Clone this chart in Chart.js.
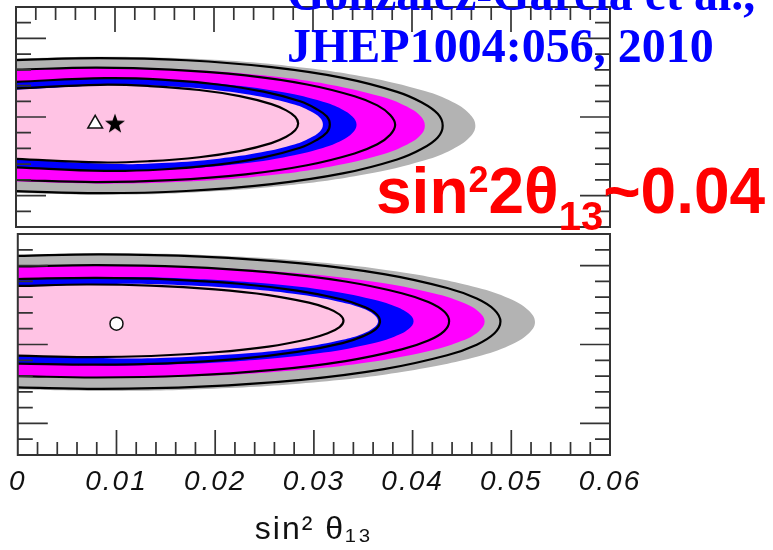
<!DOCTYPE html>
<html>
<head>
<meta charset="utf-8">
<script src="https://cdn.jsdelivr.net/npm/chart.js@4.4.0/dist/chart.umd.min.js"></script>
<style>
  body { margin: 0; width: 773px; height: 550px; overflow: hidden; position: relative; background: #fff; }
  canvas { position: absolute; left: 0; }
  .cite { position: absolute; left: 287px; font: bold 48px/1 'Liberation Serif', 'Times New Roman', serif; color: #0000ff; white-space: nowrap; z-index: 5; }
  .note { position: absolute; left: 376px; top: 159px; font: bold 64px/1 'Liberation Sans', Arial, sans-serif; color: #ff0000; white-space: nowrap; z-index: 5; }
  .note .sup { font-size: 36px; position: relative; top: -21px; }
  .note .sub { font-size: 40px; position: relative; top: 17px; }
</style>
</head>
<body>
<canvas id="topPanel" width="773" height="230" style="top:0"></canvas>
<canvas id="bottomPanel" width="773" height="331" style="top:230px"></canvas>
<div class="cite" style="top:-30px">Gonzalez-Garcia et al.,</div>
<div class="cite" style="top:22px">JHEP1004:056, 2010</div>
<div class="note">sin<span class="sup">2</span>2θ<span class="sub">13</span>~0.04</div>

<script>
// =================[Axis ticks]=================
const xTicks = [0, 0.01, 0.02, 0.03, 0.04, 0.05, 0.06];
const xTickLabels = ['0', '0.01', '0.02', '0.03', '0.04', '0.05', '0.06'];
const yMajorTicks = [2, 7, 12];

// =================[Top panel: contour x points + half widths]=================
const topGrayX = [0, 0.0085, 0.0180, 0.0275, 0.0353, 0.0413, 0.0441, 0.0458, 0.0464];
const topGrayHalf = [4.28, 4.39, 4.25, 3.80, 3.10, 2.20, 1.50, 0.76, 0];
const topMagentaX = [0, 0.0085, 0.0167, 0.0249, 0.0317, 0.0369, 0.0393, 0.0408, 0.0413];
const topMagentaHalf = [3.56, 3.69, 3.57, 3.20, 2.61, 1.85, 1.26, 0.64, 0];
const topBlueX = [0, 0.009, 0.0154, 0.0217, 0.0270, 0.0310, 0.0329, 0.0340, 0.0344];
const topBlueHalf = [2.74, 2.93, 2.84, 2.54, 2.07, 1.47, 1.00, 0.51, 0];
const topPinkX = [0, 0.01, 0.0153, 0.0205, 0.0248, 0.0282, 0.0297, 0.0307, 0.031];
const topPinkHalf = [2.21, 2.51, 2.43, 2.17, 1.77, 1.26, 0.86, 0.44, 0];

const topLine4X = [0, 0.0085, 0.0172, 0.0258, 0.0330, 0.0385, 0.0410, 0.0426, 0.0431];
const topLine4Half = [4.17, 4.30, 4.16, 3.72, 3.04, 2.15, 1.47, 0.75, 0];
const topLine3X = [0, 0.008, 0.0156, 0.0232, 0.0294, 0.0342, 0.0365, 0.0378, 0.0383];
const topLine3Half = [3.51, 3.64, 3.52, 3.15, 2.57, 1.82, 1.24, 0.63, 0];
const topLine2X = [0, 0.009, 0.0147, 0.0204, 0.0250, 0.0287, 0.0303, 0.0314, 0.0317];
const topLine2Half = [2.72, 2.95, 2.86, 2.55, 2.09, 1.48, 1.01, 0.51, 0];
const topLine1X = [0, 0.0085, 0.0135, 0.0185, 0.0226, 0.0258, 0.0273, 0.0282, 0.0285];
const topLine1Half = [2.24, 2.47, 2.39, 2.14, 1.75, 1.24, 0.84, 0.43, 0];

const topMids = {gray: 6.45, magenta: 6.45, blue: 6.5, pink: 6.52, line4: 6.45, line3: 6.5, line2: 6.52, line1: 6.58};
const topTriangle = {x: 0.0080, y: 6.57};
const topStar = {x: 0.0100, y: 6.55};

// =================[Bottom panel]=================
const botGrayX = [0, 0.009, 0.0199, 0.0307, 0.0397, 0.0466, 0.0498, 0.0517, 0.0524];
const botGrayHalf = [4.27, 4.36, 4.22, 3.78, 3.08, 2.18, 1.49, 0.76, 0];
const botMagentaX = [0, 0.009, 0.0186, 0.0282, 0.0361, 0.0422, 0.0450, 0.0467, 0.0473];
const botMagentaHalf = [3.46, 3.56, 3.45, 3.08, 2.52, 1.78, 1.22, 0.62, 0];
const botBlueX = [0, 0.009, 0.0168, 0.0246, 0.0310, 0.0359, 0.0382, 0.0396, 0.0401];
const botBlueHalf = [2.68, 2.80, 2.71, 2.42, 1.98, 1.40, 0.96, 0.49, 0];
const botPinkX = [0, 0.01, 0.0166, 0.0233, 0.0287, 0.0329, 0.0349, 0.0361, 0.0365];
const botPinkHalf = [2.19, 2.36, 2.28, 2.04, 1.67, 1.18, 0.81, 0.41, 0];

const botLine4X = [0, 0.0085, 0.0186, 0.0287, 0.0371, 0.0435, 0.0465, 0.0483, 0.0489];
const botLine4Half = [4.16, 4.26, 4.12, 3.69, 3.01, 2.13, 1.46, 0.74, 0];
const botLine3X = [0, 0.008, 0.0169, 0.0259, 0.0332, 0.0389, 0.0416, 0.0432, 0.0437];
const botLine3Half = [3.47, 3.56, 3.45, 3.08, 2.52, 1.78, 1.22, 0.62, 0];
const botLine2X = [0, 0.008, 0.0152, 0.0224, 0.0283, 0.0329, 0.0350, 0.0363, 0.0367];
const botLine2Half = [2.68, 2.75, 2.66, 2.38, 1.94, 1.38, 0.94, 0.48, 0];
const botLine1X = [0, 0.007, 0.0135, 0.020, 0.0254, 0.0295, 0.0314, 0.0326, 0.033];
const botLine1Half = [2.21, 2.30, 2.23, 1.99, 1.63, 1.15, 0.79, 0.40, 0];

const botMids = {gray: 8.42, magenta: 8.45, blue: 8.47, pink: 8.48, line4: 8.45, line3: 8.47, line2: 8.47, line1: 8.5};
const botCircle = {x: 0.0100, y: 8.32};

// =================[Colours]=================
const colGray = '#b3b3b3';
const colMagenta = '#ff00ff';
const colBlue = '#0000ff';
const colPink = '#ffc3e4';

// upper edge out to the tip, then lower edge back to x = 0
function outline(xs, mid, half) {
    const upper = xs.map((x, i) => ({x: x, y: mid + half[i]}));
    const lower = xs.slice(0, -1).map((x, i) => ({x: x, y: mid - half[i]})).reverse();
    return upper.concat(lower);
}

function region(xs, mid, half, color, order) {
    return {
        data: outline(xs, mid, half),
        fill: 'shape',
        backgroundColor: color,
        borderColor: 'transparent',
        borderWidth: 0,
        pointRadius: 0,
        tension: 0.4,
        order: order
    };
}

function contour(xs, mid, half) {
    return {
        data: outline(xs, mid, half),
        fill: false,
        borderColor: '#000',
        borderWidth: 2.2,
        pointRadius: 0,
        tension: 0.4,
        order: 2
    };
}

function marker(pt, style, radius, bg) {
    return {
        data: [pt],
        showLine: false,
        pointStyle: style,
        pointRadius: radius,
        backgroundColor: bg,
        borderColor: '#111',
        borderWidth: 1.5,
        order: 0
    };
}

// filled five point star for the best fit point
const starCanvas = document.createElement('canvas');
starCanvas.width = 24;
starCanvas.height = 24;
(function () {
    const c = starCanvas.getContext('2d');
    c.beginPath();
    for (let k = 0; k < 10; k++) {
        const r = k % 2 === 0 ? 10.5 : 4.3;
        const a = -Math.PI / 2 + k * Math.PI / 5;
        c.lineTo(12 + r * Math.cos(a), 12 + r * Math.sin(a));
    }
    c.closePath();
    c.fillStyle = '#000';
    c.fill();
})();

// ==================[Frame and inward ticks]==================
const frameTicks = {
    id: 'frameTicks',
    beforeDraw(chart) {
        chart.ctx.letterSpacing = '2px';
    },
    afterDatasetsDraw(chart, args, opts) {
        const ctx = chart.ctx;
        const a = chart.chartArea;
        const x = chart.scales.x;
        const y = chart.scales.y;
        ctx.save();
        ctx.strokeStyle = '#333';
        ctx.lineWidth = 1.7;
        ctx.beginPath();
        for (let k = 1; k < 14; k++) {
            const py = y.getPixelForValue(k);
            const len = yMajorTicks.includes(k) ? 30 : 15;
            ctx.moveTo(a.left, py);
            ctx.lineTo(a.left + len, py);
            ctx.moveTo(a.right, py);
            ctx.lineTo(a.right - len, py);
        }
        for (let k = 1; k < 30; k++) {
            const px = x.getPixelForValue(k * 0.002);
            const len = k % 5 === 0 ? 25 : 13;
            if (opts.side === 'top') {
                ctx.moveTo(px, a.top);
                ctx.lineTo(px, a.top + len);
            } else {
                ctx.moveTo(px, a.bottom);
                ctx.lineTo(px, a.bottom - len);
            }
        }
        ctx.stroke();
        ctx.lineWidth = 2;
        ctx.strokeRect(a.left, a.top, a.right - a.left, a.bottom - a.top);
        ctx.restore();
    }
};

function panelOptions(side, showAxis, padding) {
    return {
        responsive: false,
        animation: false,
        events: [],
        layout: {padding: padding, autoPadding: false},
        plugins: {
            legend: {display: false},
            tooltip: {enabled: false},
            frameTicks: {side: side}
        },
        scales: {
            x: {
                type: 'linear',
                min: 0,
                max: 0.06,
                display: showAxis,
                grid: {display: false, drawTicks: false},
                border: {display: false},
                afterBuildTicks: axis => { axis.ticks = xTicks.map(v => ({value: v})); },
                ticks: {
                    callback: (v, i) => xTickLabels[i],
                    autoSkip: false,
                    maxRotation: 0,
                    padding: 10,
                    color: '#111',
                    font: {family: 'Liberation Sans', style: 'italic', size: 28}
                },
                title: {
                    display: true,
                    text: 'sin² θ₁₃',
                    color: '#111',
                    padding: {top: 2, bottom: 10.6},
                    font: {family: 'Liberation Sans', size: 32}
                }
            },
            y: {type: 'linear', min: 0, max: 14, display: false}
        }
    };
}

const topChart = new Chart(document.getElementById('topPanel'), {
    type: 'line',
    data: {
        datasets: [
            marker(topStar, starCanvas, 10, '#000'),
            marker(topTriangle, 'triangle', 8.5, '#fff'),
            contour(topLine1X, topMids.line1, topLine1Half),
            contour(topLine2X, topMids.line2, topLine2Half),
            contour(topLine3X, topMids.line3, topLine3Half),
            contour(topLine4X, topMids.line4, topLine4Half),
            region(topPinkX, topMids.pink, topPinkHalf, colPink, 5),
            region(topBlueX, topMids.blue, topBlueHalf, colBlue, 6),
            region(topMagentaX, topMids.magenta, topMagentaHalf, colMagenta, 7),
            region(topGrayX, topMids.gray, topGrayHalf, colGray, 8)
        ]
    },
    options: panelOptions('top', false, {left: 16, top: 7, right: 163, bottom: 3}),
    plugins: [frameTicks]
});

const bottomChart = new Chart(document.getElementById('bottomPanel'), {
    type: 'line',
    data: {
        datasets: [
            marker(botCircle, 'circle', 6.5, '#fff'),
            contour(botLine1X, botMids.line1, botLine1Half),
            contour(botLine2X, botMids.line2, botLine2Half),
            contour(botLine3X, botMids.line3, botLine3Half),
            contour(botLine4X, botMids.line4, botLine4Half),
            region(botPinkX, botMids.pink, botPinkHalf, colPink, 5),
            region(botBlueX, botMids.blue, botBlueHalf, colBlue, 6),
            region(botMagentaX, botMids.magenta, botMagentaHalf, colMagenta, 7),
            region(botGrayX, botMids.gray, botGrayHalf, colGray, 8)
        ]
    },
    options: panelOptions('bottom', true, {left: 16, top: 4, right: 163, bottom: 1.4}),
    plugins: [frameTicks]
});
</script>
</body>
</html>
